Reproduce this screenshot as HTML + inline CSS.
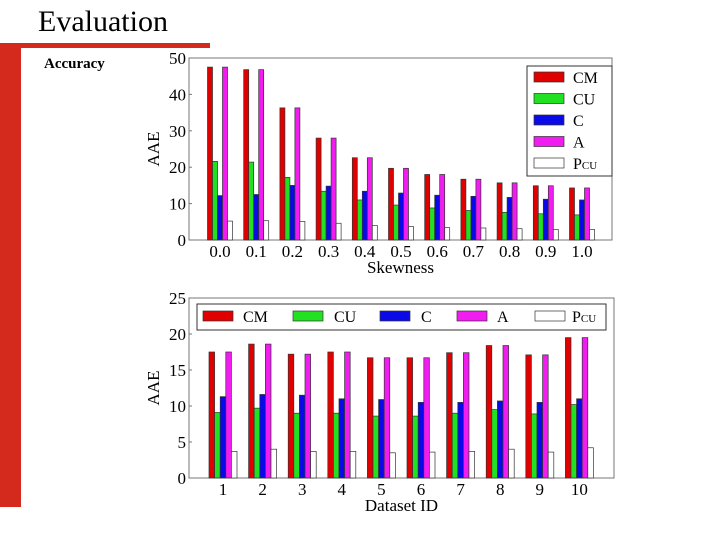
<!DOCTYPE html>
<html><head><meta charset="utf-8"><style>
body{margin:0;width:720px;height:540px;background:#fff;overflow:hidden;position:relative;font-family:"Liberation Serif",serif}
</style></head><body>
<div style="position:absolute;left:38px;top:5px;font-size:30px;">Evaluation</div>
<div style="position:absolute;left:0;top:43px;width:210px;height:5px;background:#d42a1e"></div>
<div style="position:absolute;left:0;top:43px;width:21px;height:464px;background:#d42a1e"></div>
<div style="position:absolute;left:44px;top:56px;font-size:15px;font-weight:bold">Accuracy</div>
<svg id="s" width="720" height="540" style="position:absolute;left:0;top:0" font-family="Liberation Serif, serif"></svg>
<script>
const topCats=["0.0","0.1","0.2","0.3","0.4","0.5","0.6","0.7","0.8","0.9","1.0"];
const topCM=[47.5,46.8,36.3,28,22.6,19.7,18,16.7,15.7,14.9,14.3];
const topCU=[21.6,21.4,17.2,13.4,11,9.6,8.8,8.1,7.6,7.2,6.9];
const topC=[12.2,12.5,15,14.8,13.4,12.9,12.3,12,11.7,11.2,11];
const topA=[47.5,46.8,36.3,28,22.6,19.7,18,16.7,15.7,14.9,14.3];
const topP=[5.2,5.3,5.1,4.6,4.0,3.7,3.4,3.3,3.1,2.9,2.9];
const topTicks=[0,10,20,30,40,50];
const botCats=["1","2","3","4","5","6","7","8","9","10"];
const botCM=[17.5,18.6,17.2,17.5,16.7,16.7,17.4,18.4,17.1,19.5];
const botCU=[9.1,9.7,9.0,9.0,8.6,8.6,9.0,9.5,8.9,10.2];
const botC=[11.3,11.6,11.5,11.0,10.9,10.5,10.5,10.7,10.5,11.0];
const botA=[17.5,18.6,17.2,17.5,16.7,16.7,17.4,18.4,17.1,19.5];
const botP=[3.7,4.0,3.7,3.7,3.5,3.6,3.7,4.0,3.6,4.2];
const botTicks=[0,5,10,15,20,25];
const seriesNames=["CM","CU","C","A","P"];
const colors=["#e00000","#22e022","#0a0ae8","#f01cf0","#ffffff"];
const NS="http://www.w3.org/2000/svg";
const svg=document.getElementById('s');
function el(t,a,p){const e=document.createElementNS(NS,t);for(const k in a)e.setAttribute(k,a[k]);(p||svg).appendChild(e);return e;}
function chart(o){
  const g=el('g',{});
  
  
  const y=v=>o.y0-(v/o.max)*(o.y0-o.y1);
  const x=i=>o.c0+i*o.step;
  const fr=el('rect',{x:o.l,y:o.y1,width:o.r-o.l,height:o.y0-o.y1,fill:'none',stroke:'#777','stroke-width':1},g);
  
  
  o.ticks.forEach(t=>{
    el('line',{x1:o.l,x2:o.l+3,y1:y(t),y2:y(t),stroke:'#777'},g);
    const tx=el('text',{x:o.l-3,y:y(t)+6,'text-anchor':'end','font-size':17},g);tx.textContent=t;
    
    
  });
  const data=o.series;
  o.cats.forEach((c,i)=>{
    const cx=x(i);
    data.forEach((s,j)=>{
      const v=s[i];
      const bx=cx-2.5*o.bw+j*o.bw;
      const b=el('rect',{x:bx,y:y(v),width:o.bw,height:o.y0-y(v),fill:colors[j],stroke:'#333','stroke-width':0.7},g);
      
      
    });
    const tx=el('text',{x:cx,y:o.y0+17,'text-anchor':'middle','font-size':17},g);tx.textContent=c;
    
    
  });
  const xt=el('text',{x:(o.l+o.r)/2,y:o.y0+33,'text-anchor':'middle','font-size':17},g);xt.textContent=o.xlabel;
  
  
  const yt=el('text',{x:0,y:0,'text-anchor':'middle','font-size':17,transform:`translate(${o.l-30},${(o.y0+o.y1)/2}) rotate(-90)`},g);yt.textContent='AAE';
  
  
  return g;
}
chart({name:'skewness-chart',l:189,r:612,y0:240,y1:58,max:50,c0:220,step:36.2,bw:5,ticks:topTicks,cats:topCats,series:[topCM,topCU,topC,topA,topP],xlabel:'Skewness'});
chart({name:'dataset-chart',l:189,r:614,y0:478,y1:298,max:25,c0:223,step:39.6,bw:5.6,ticks:botTicks,cats:botCats,series:[botCM,botCU,botC,botA,botP],xlabel:'Dataset ID'});
function legendEntry(lg,j,sx,sy,tx){
  const r=el('rect',{x:sx,y:sy,width:30,height:10,fill:colors[j],stroke:'#333','stroke-width':0.7},lg);
  
  
  const t=el('text',{x:tx,y:sy+11,'font-size':16},lg);
  if(j==4){t.innerHTML='P<tspan font-size="11">CU</tspan>';}else t.textContent=seriesNames[j];
  
  
}
const lg1=el('g',{});


el('rect',{x:527,y:66,width:85,height:110,fill:'#fff',stroke:'#333','stroke-width':1},lg1);
for(let j=0;j<5;j++)legendEntry(lg1,j,534,72+j*21.5,573);
const lg2=el('g',{});


el('rect',{x:197,y:304,width:409,height:26,fill:'#fff',stroke:'#333','stroke-width':1},lg2);
const lx=[203,293,380,457,535],tx2=[243,334,421,497,572];
for(let j=0;j<5;j++)legendEntry(lg2,j,lx[j],311,tx2[j]);
</script>
</body></html>
